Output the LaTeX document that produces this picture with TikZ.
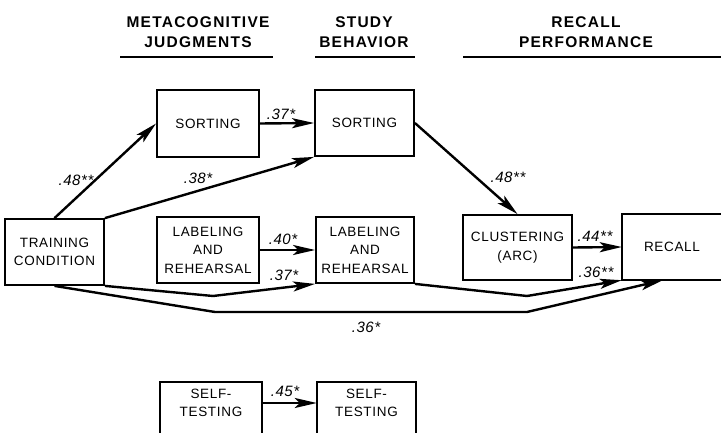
\documentclass[tikz,border=0pt]{standalone}
\usepackage{fontspec}
\setmainfont{Liberation Sans}
\newfontfamily\headfont[LetterSpace=8]{Liberation Sans}
\newfontfamily\boxfont[LetterSpace=5]{Liberation Sans}
\newfontfamily\labfont[LetterSpace=4]{Liberation Sans}
\usetikzlibrary{arrows.meta,calc}
\begin{document}
\begin{tikzpicture}[x=1pt,y=-1pt,
  boxline/.style={line width=1.8pt},
  box/.style={draw,boxline,align=center,inner sep=0pt,font=\boxfont\fontsize{13.5}{18.5}\selectfont},
  boxtext/.style={align=center,inner sep=0pt,font=\boxfont\fontsize{13.5}{18.5}\selectfont},
  arr/.style={line width=2.4pt,line join=miter,-{Stealth[length=22pt,width=10pt,inset=5pt]}},
  lab/.style={inner sep=0pt,font=\labfont\itshape\fontsize{15}{15}\selectfont},
  head/.style={align=center,inner sep=0pt,font=\headfont\bfseries\fontsize{15.5}{20}\selectfont},
  uline/.style={line width=1.5pt}]
\useasboundingbox (0,0) rectangle (721,433);

% headings
\node[head] (h1) at (198,32) {METACOGNITIVE\\JUDGMENTS};
\node[head] (h2) at (364,32) {STUDY\\BEHAVIOR};
\node[head] (h3) at (586,32) {RECALL\\PERFORMANCE};
\draw[uline] (120,57) -- (273,57);
\draw[uline] (315,57) -- (415,57);
\draw[uline] (463,57) -- (721,57);

% boxes
\node[box,minimum width=99pt,minimum height=66pt] (tc) at (54.5,252) {TRAINING\\CONDITION};
\node[box,minimum width=102pt,minimum height=67pt] (sm) at (208,123.5) {SORTING};
\node[box,minimum width=99pt,minimum height=66pt] (ss) at (364.5,123) {SORTING};
\node[box,minimum width=102pt,minimum height=66pt] (lm) at (208,250) {LABELING\\AND\\REHEARSAL};
\node[box,minimum width=98pt,minimum height=66pt] (ls) at (365,250) {LABELING\\AND\\REHEARSAL};
\node[box,minimum width=109pt,minimum height=65pt] (cl) at (517.5,247.5) {CLUSTERING\\(ARC)};

\node[boxtext,minimum width=100pt,minimum height=66pt] (rc) at (672,247) {RECALL};
\draw[boxline] ($(rc.north west)+(150,0)$) -- (rc.north west) -- (rc.south west) -- ($(rc.south west)+(150,0)$);

\node[boxtext,minimum width=102pt,minimum height=42pt] (stm) at (211,403) {SELF-\\TESTING};
\draw[boxline] ($(stm.south west)+(0,30)$) -- (stm.north west) -- (stm.north east) -- ($(stm.south east)+(0,30)$);
\node[boxtext,minimum width=99pt,minimum height=42pt] (sts) at (366.5,403) {SELF-\\TESTING};
\draw[boxline] ($(sts.south west)+(0,30)$) -- (sts.north west) -- (sts.north east) -- ($(sts.south east)+(0,30)$);

% connectors
\draw[arr] (tc.north) -- (sm.west);
\draw[arr] (tc.north east) -- (ss.south west);
\draw[arr] (sm.east) -- (ss.west);
\draw[arr] (ss.east) -- (cl.north);
\draw[arr] (lm.east) -- (ls.west);
\draw[arr] (cl.east) -- (rc.west);
\draw[arr] (stm.east) -- (sts.west);

\coordinate (b1) at (213,296);
\draw[arr] (tc.south east) -- (b1) -- (ls.south west);
\coordinate (b3) at (527,296);
\draw[arr] (ls.south east) -- (b3) -- (rc.south west);
\coordinate (b2a) at (215,312);
\coordinate (b2b) at (527,312);
\coordinate (rcin) at ($(rc.south west)+(41,0)$);
\draw[arr] (tc.south) -- (b2a) -- (b2b) -- (rcin);

% labels
\node[lab] (l1) at (76,180) {.48**};
\node[lab] (l2) at (198,178) {.38*};
\node[lab] (l3) at (281,114) {.37*};
\node[lab] (l4) at (508,177) {.48**};
\node[lab] (l5) at (283,239) {.40*};
\node[lab] (l6) at (284,275) {.37*};
\node[lab] (l7) at (595,236) {.44**};
\node[lab] (l8) at (596,272) {.36**};
\node[lab] (l9) at (366,327) {.36*};
\node[lab] (l10) at (285,391) {.45*};
\end{tikzpicture}
\end{document}
